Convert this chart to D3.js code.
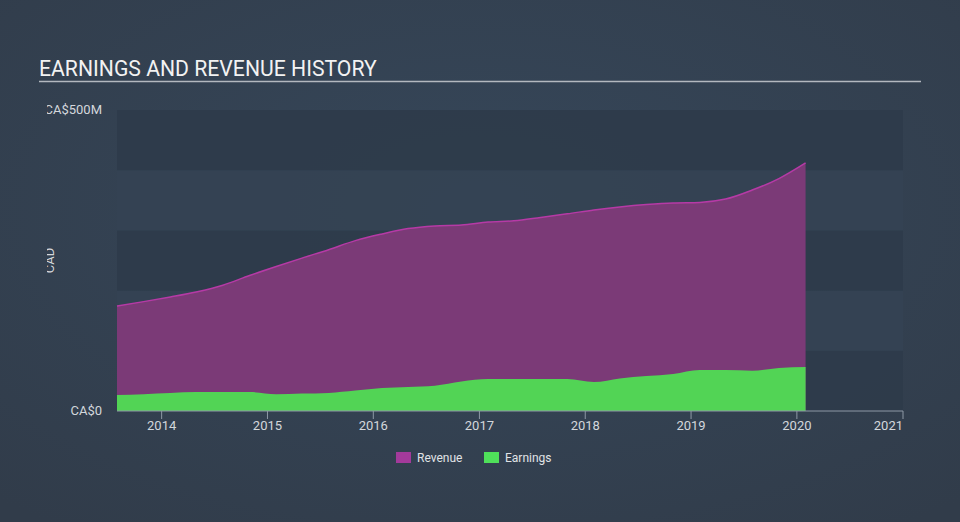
<!DOCTYPE html>
<html>
<head>
<meta charset="utf-8">
<script src="https://cdn.jsdelivr.net/npm/d3@7"></script>
<style>
  html, body { margin: 0; padding: 0; background: #344151; }
  svg { display: block; font-family: Roboto, "Noto Sans", sans-serif; }
</style>
</head>
<body>
<svg id="chart" width="960" height="522"></svg>
<script>
// ---- data ----
const dates = [
  "2013-07-31","2013-10-31","2014-01-31","2014-04-30","2014-07-31","2014-10-31",
  "2015-01-31","2015-04-30","2015-07-31","2015-10-31","2016-01-31","2016-04-30",
  "2016-07-31","2016-10-31","2017-01-31","2017-04-30","2017-07-31","2017-10-31",
  "2018-01-31","2018-04-30","2018-07-31","2018-10-31","2019-01-31","2019-04-30",
  "2019-07-31","2019-10-31","2020-01-31"
];
const revenue = [ // CA$ millions
  174.5, 181.7, 189.5, 197.8, 209, 225, 240, 254, 268, 283, 294, 303,
  307.5, 309, 314, 316, 321.6, 327.5, 334, 339, 343, 345.7, 346.5, 352,
  367, 386, 412
];
const earnings = [ // CA$ millions
  26.6, 28, 30, 31.6, 31.6, 31.6, 28, 29, 30, 34, 38, 40,
  42, 49, 53, 53, 53, 53, 48, 54, 58, 61.5, 68, 68,
  67, 71.5, 73
];
const yTicks = [0, 500];
const yTickLabels = ["CA$0", "CA$500M"];
const xTickYears = [2014, 2015, 2016, 2017, 2018, 2019, 2020, 2021];
const legendItems = ["Revenue", "Earnings"];

// ---- layout ----
const svg = d3.select("#chart");
const W = 960, H = 522;
const plot = { left: 117, right: 903, top: 110, bottom: 411 };

const parse = d3.timeParse("%Y-%m-%d");
const series = dates.map((d, i) => ({ date: parse(d), rev: revenue[i], earn: earnings[i] }));

const x = d3.scaleTime()
  .domain([parse("2013-07-31"), new Date(2021, 0, 1)])
  .range([plot.left, plot.right]);
const y = d3.scaleLinear().domain([0, 500]).range([plot.bottom, plot.top]);

// background gradient (subtle)
const defs = svg.append("defs");
const rg = defs.append("radialGradient").attr("id", "bg").attr("cx", "50%").attr("cy", "40%").attr("r", "75%");
rg.append("stop").attr("offset", "0%").attr("stop-color", "#36475a");
rg.append("stop").attr("offset", "100%").attr("stop-color", "#313c4a");
svg.append("rect").attr("width", W).attr("height", H).attr("fill", "url(#bg)");

// bands
const bandVals = [0, 100, 200, 300, 400];
svg.append("g").selectAll("rect").data(bandVals).join("rect")
  .attr("x", plot.left)
  .attr("width", plot.right - plot.left)
  .attr("y", d => y(d + 100))
  .attr("height", d => y(d) - y(d + 100))
  .attr("fill", (d, i) => i % 2 === 0 ? "#2e3b4a" : "#344253")
  .attr("opacity", 0.9);

// areas
const curve = d3.curveMonotoneX;
const revArea = d3.area().x(d => x(d.date)).y0(y(0)).y1(d => y(d.rev)).curve(curve);
const revLine = d3.line().x(d => x(d.date)).y(d => y(d.rev)).curve(curve);
const earnArea = d3.area().x(d => x(d.date)).y0(y(0)).y1(d => y(d.earn)).curve(curve);

svg.append("path").datum(series).attr("d", revArea).attr("fill", "#7b3a77");
svg.append("path").datum(series).attr("d", revLine).attr("fill", "none")
  .attr("stroke", "#b63aa6").attr("stroke-width", 1.5);
svg.append("path").datum(series).attr("d", earnArea).attr("fill", "#52d455");

// x axis
const xAxis = svg.append("g").attr("transform", `translate(0,${plot.bottom})`);
xAxis.append("line").attr("x1", plot.left).attr("x2", plot.right)
  .attr("stroke", "#8e99a6").attr("stroke-width", 1);
const xt = xAxis.selectAll("g.tick").data(xTickYears).join("g")
  .attr("class", "tick")
  .attr("transform", d => `translate(${x(new Date(d, 0, 1))},0)`);
xt.append("line").attr("y1", 0).attr("y2", 8).attr("stroke", "#8e99a6");
xt.append("text")
  .attr("y", 18.5)
  .attr("text-anchor", (d, i) => i === xTickYears.length - 1 ? "end" : "middle")
  .attr("font-size", 13)
  .attr("fill", "#d3d7dc")
  .text(d => d);

// y labels (clipped at left)
defs.append("clipPath").attr("id", "yclip").append("rect")
  .attr("x", 47).attr("y", 0).attr("width", 100).attr("height", H);
const yg = svg.append("g").attr("clip-path", "url(#yclip)");
yg.selectAll("text.ylab").data(yTicks).join("text")
  .attr("class", "ylab")
  .attr("x", 102)
  .attr("y", d => y(d) + 4)
  .attr("text-anchor", "end")
  .attr("font-size", 13)
  .attr("fill", "#d3d7dc")
  .text((d, i) => yTickLabels[i]);
yg.append("text")
  .attr("transform", `translate(54,${(plot.top + plot.bottom) / 2}) rotate(-90)`)
  .attr("text-anchor", "middle")
  .attr("font-size", 13)
  .attr("fill", "#d3d7dc")
  .text("CAD");

// title
svg.append("text").attr("x", 39).attr("y", 76)
  .attr("font-size", 21.2).attr("fill", "#f2f2f2")
  .text("EARNINGS AND REVENUE HISTORY");
svg.append("line").attr("x1", 39).attr("x2", 921).attr("y1", 81.5).attr("y2", 81.5)
  .attr("stroke", "#b3b8bf").attr("stroke-width", 1.5);

// legend
const legColors = ["#a33a9b", "#4fe05a"];
const legX = [396, 484];
const lg = svg.append("g").selectAll("g").data(legendItems).join("g")
  .attr("transform", (d, i) => `translate(${legX[i]},452)`);
lg.append("rect").attr("width", 15).attr("height", 11).attr("fill", (d, i) => legColors[i]);
lg.append("text").attr("x", 21).attr("y", 10).attr("font-size", 12)
  .attr("fill", "#e0e3e6").text(d => d);
</script>
</body>
</html>
